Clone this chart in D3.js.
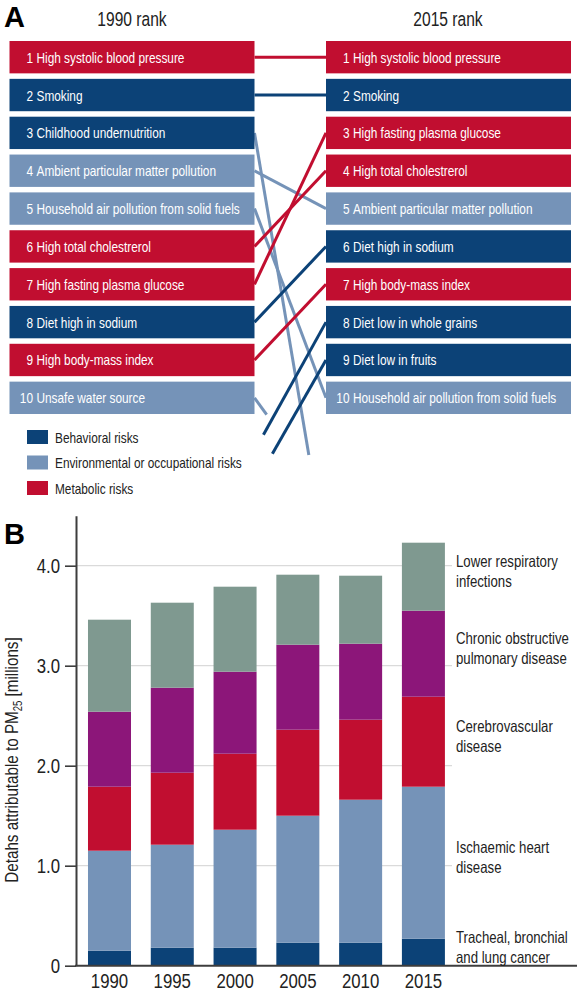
<!DOCTYPE html>
<html>
<head>
<meta charset="utf-8">
<script src="https://cdn.jsdelivr.net/npm/d3@7/dist/d3.min.js"></script>
<style>
  html, body { margin: 0; padding: 0; background: #fff; }
  svg { display: block; }
  text { font-family: "Liberation Sans", Arial, sans-serif; fill: #222; }
</style>
</head>
<body>
<script>
// ---------------- Panel A data ----------------
const risks1990 = ["High systolic blood pressure", "Smoking", "Childhood undernutrition",
  "Ambient particular matter pollution", "Household air pollution from solid fuels",
  "High total cholestrerol", "High fasting plasma glucose", "Diet high in sodium",
  "High body-mass index", "Unsafe water source"];
const groups1990 = ["Metabolic", "Behavioral", "Behavioral", "Environmental", "Environmental",
  "Metabolic", "Metabolic", "Behavioral", "Metabolic", "Environmental"];
const risks2015 = ["High systolic blood pressure", "Smoking", "High fasting plasma glucose",
  "High total cholestrerol", "Ambient particular matter pollution", "Diet high in sodium",
  "High body-mass index", "Diet low in whole grains", "Diet low in fruits",
  "Household air pollution from solid fuels"];
const groups2015 = ["Metabolic", "Behavioral", "Metabolic", "Metabolic", "Environmental",
  "Behavioral", "Metabolic", "Behavioral", "Behavioral", "Environmental"];
// estimated positions of risks outside the top 10 (direction of their stub lines)
const offRank1990 = { "Diet low in whole grains": 11.4, "Diet low in fruits": 12.3 };
const offRank2015 = { "Childhood undernutrition": 14.2, "Unsafe water source": 12.6 };
// share of the stub line that is drawn
const stubShare = { "Childhood undernutrition": 0.76, "Unsafe water source": 0.17,
  "Diet low in whole grains": 0.875, "Diet low in fruits": 0.75 };
const lineGroupOverride = { "Childhood undernutrition": "Environmental" };
const legendGroups = ["Behavioral", "Environmental", "Metabolic"];
const legendLabels = ["Behavioral risks", "Environmental or occupational risks", "Metabolic risks"];

// ---------------- Panel B data ----------------
const years = ["1990", "1995", "2000", "2005", "2010", "2015"];
const causes = ["lung", "ihd", "cerebro", "copd", "lri"];
const causeLabels = [["Tracheal, bronchial", "and lung cancer"], ["Ischaemic heart", "disease"],
  ["Cerebrovascular", "disease"], ["Chronic obstructive", "pulmonary disease"],
  ["Lower respiratory", "infections"]];
const lungCancer = [0.15, 0.18, 0.18, 0.23, 0.23, 0.27];
const ischaemicHeart = [1.00, 1.03, 1.18, 1.27, 1.43, 1.52];
const cerebrovascular = [0.64, 0.72, 0.76, 0.86, 0.80, 0.90];
const copd = [0.75, 0.85, 0.82, 0.85, 0.76, 0.86];
const lowerResp = [0.92, 0.85, 0.85, 0.70, 0.68, 0.68];
const yTicks = [0, 1, 2, 3, 4];

// ---------------- styles ----------------
const groupColor = { Behavioral: "#0c4277", Environmental: "#7593b8", Metabolic: "#c10e30" };
const causeColor = { lung: "#0c4277", ihd: "#7593b8", cerebro: "#c10e30", copd: "#8c1679", lri: "#7f9990" };
const NARROW = 0.8; // horizontal squeeze to mimic a condensed face

const W = 583, H = 991;
const svg = d3.select("body").append("svg").attr("width", W).attr("height", H);
svg.append("rect").attr("width", W).attr("height", H).attr("fill", "#fff");

// ======== Panel A ========
const leftX = 9.5, rightX = 326, boxW = 245;
const ranks = d3.range(1, 11);
const rowBand = d3.scaleBand().domain(ranks).range([41, 41 + 10 * 37.3]).paddingInner(0.145).paddingOuter(0);
const rankY = d3.scaleLinear().domain([1, 10]).range([rowBand(1) + rowBand.bandwidth() / 2, rowBand(10) + rowBand.bandwidth() / 2]);
const xL = leftX + boxW, xR = rightX;

svg.append("text").attr("class", "wide").attr("x", 4).attr("y", 27).text("A")
  .style("font-weight", "bold").style("font-size", "29px").style("fill", "#000");
svg.append("text").attr("x", 132).attr("y", 26.5).attr("text-anchor", "middle").style("font-size", "19.5px").text("1990 rank");
svg.append("text").attr("x", 448).attr("y", 26.5).attr("text-anchor", "middle").style("font-size", "19.5px").text("2015 rank");

// links
const allRisks = Array.from(new Set([...risks1990, ...risks2015]));
const links = allRisks.map(name => {
  const i1 = risks1990.indexOf(name), i2 = risks2015.indexOf(name);
  const r1 = i1 >= 0 ? i1 + 1 : offRank1990[name];
  const r2 = i2 >= 0 ? i2 + 1 : offRank2015[name];
  const grp = lineGroupOverride[name] || (i1 >= 0 ? groups1990[i1] : groups2015[i2]);
  let x1 = xL, y1 = rankY(r1), x2 = xR, y2 = rankY(r2);
  if (i1 >= 0 && i2 < 0) { const f = stubShare[name]; x2 = x1 + (x2 - x1) * f; y2 = y1 + (y2 - y1) * f; }
  if (i1 < 0 && i2 >= 0) { const f = stubShare[name]; x1 = x2 + (x1 - x2) * f; y1 = y2 + (y1 - y2) * f; }
  return { name, grp, x1, y1, x2, y2 };
});
svg.append("g").selectAll("line").data(links).join("line")
  .attr("x1", d => d.x1).attr("y1", d => d.y1).attr("x2", d => d.x2).attr("y2", d => d.y2)
  .attr("stroke", d => groupColor[d.grp]).attr("stroke-width", 3);

function drawColumn(x0, names, groups) {
  const g = svg.append("g");
  const rows = g.selectAll("g").data(names.map((n, i) => ({ n, r: i + 1, grp: groups[i] }))).join("g")
    .attr("transform", d => `translate(${x0},${rowBand(d.r)})`);
  rows.append("rect").attr("width", boxW).attr("height", rowBand.bandwidth()).attr("fill", d => groupColor[d.grp]);
  rows.append("text").attr("x", 23.5).attr("y", rowBand.bandwidth() / 2 + 5.5).attr("text-anchor", "end")
    .style("font-size", "14.8px").style("fill", "#fff").text(d => d.r);
  rows.append("text").attr("x", 27).attr("y", rowBand.bandwidth() / 2 + 5.5)
    .style("font-size", "14.8px").style("fill", "#fff").text(d => d.n);
}
drawColumn(leftX, risks1990, groups1990);
drawColumn(rightX, risks2015, groups2015);

// legend
const leg = svg.append("g").selectAll("g").data(legendGroups).join("g")
  .attr("transform", (d, i) => `translate(27,${430 + i * 25.5})`);
leg.append("rect").attr("width", 21).attr("height", 14).attr("fill", d => groupColor[d]);
leg.append("text").attr("x", 28).attr("y", 12.5).style("font-size", "14.8px").text((d, i) => legendLabels[i]);

// ======== Panel B ========
svg.append("text").attr("class", "wide").attr("x", 4).attr("y", 544).text("B")
  .style("font-weight", "bold").style("font-size", "29px").style("fill", "#000");

const y = d3.scaleLinear().domain([0, 4.5]).range([965.7, 515.7]);
const x = d3.scaleBand().domain(years).range([78.1, 454.8]).paddingInner(0.315).paddingOuter(0.1575);
const axisX0 = 76;

// gridlines
svg.append("g").selectAll("line").data(yTicks.filter(t => t > 0)).join("line")
  .attr("x1", axisX0).attr("x2", 452).attr("y1", d => y(d)).attr("y2", d => y(d))
  .attr("stroke", "#dadada").attr("stroke-width", 1.2);

// stacked bars
const table = years.map((yr, i) => ({ year: yr, lung: lungCancer[i], ihd: ischaemicHeart[i],
  cerebro: cerebrovascular[i], copd: copd[i], lri: lowerResp[i] }));
const stacked = d3.stack().keys(causes)(table);
svg.append("g").selectAll("g").data(stacked).join("g").attr("fill", s => causeColor[s.key])
  .selectAll("rect").data(s => s).join("rect")
  .attr("x", d => x(d.data.year)).attr("width", x.bandwidth())
  .attr("y", d => y(d[1])).attr("height", d => y(d[0]) - y(d[1]));

// y axis
const yAxis = d3.axisLeft(y).tickValues(yTicks).tickSize(11).tickPadding(5).tickSizeOuter(0)
  .tickFormat(d => d === 0 ? "0" : d3.format(".1f")(d));
const gy = svg.append("g").attr("transform", `translate(${axisX0},0)`).call(yAxis);
gy.select(".domain").attr("stroke", "#3d3d3d").attr("stroke-width", 2);
gy.selectAll(".tick line").attr("stroke", "#3d3d3d").attr("stroke-width", 1.6);
gy.selectAll(".tick text").style("font-size", "21px").style("font-family", "Liberation Sans, Arial, sans-serif").style("fill", "#222");

// x axis
const xAxis = d3.axisBottom(x).tickSize(0).tickPadding(7);
const gx = svg.append("g").attr("transform", `translate(0,${y(0)})`).call(xAxis);
gx.select(".domain").remove();
gx.selectAll(".tick text").style("font-size", "21px").style("font-family", "Liberation Sans, Arial, sans-serif").style("fill", "#222");
svg.append("line").attr("x1", axisX0 - 1).attr("x2", 577).attr("y1", y(0)).attr("y2", y(0))
  .attr("stroke", "#3d3d3d").attr("stroke-width", 2);

// y title
const yt = svg.append("text").attr("transform", `translate(18,760) rotate(-90)`).attr("text-anchor", "middle")
  .style("font-size", "19px");
yt.append("tspan").text("Detahs attributable to PM");
yt.append("tspan").text("25").style("font-size", "12px").attr("dy", 4);
yt.append("tspan").text(" [millions]").attr("dy", -4);

// cause labels at 2015 segment midpoints
const lastStack = stacked.map(s => ({ key: s.key, lo: s[years.length - 1][0], hi: s[years.length - 1][1] }));
const lab = svg.append("g").selectAll("text").data(lastStack).join("text")
  .attr("x", 456).attr("y", d => y((d.lo + d.hi) / 2) - 5).style("font-size", "16.5px");
lab.each(function (d) {
  const t = d3.select(this);
  const lines = causeLabels[causes.indexOf(d.key)];
  lines.forEach((ln, j) => {
    t.append("tspan").attr("x", 456).attr("dy", j === 0 ? -4.5 : 20).text(ln);
  });
});

// condense all texts horizontally around their anchor point
svg.selectAll("text").filter(function () { return !this.classList.contains("wide"); }).each(function () {
  const t = d3.select(this);
  const ax = +t.attr("x") || 0, ay = +t.attr("y") || 0;
  const tr = t.attr("transform") || "";
  t.attr("transform", `${tr} translate(${ax},${ay}) scale(${NARROW},1) translate(${-ax},${-ay})`);
});
</script>
</body>
</html>
